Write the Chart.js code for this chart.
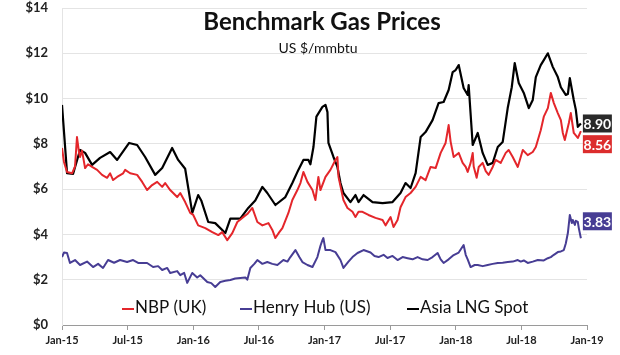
<!DOCTYPE html>
<html>
<head>
<meta charset="utf-8">
<script src="https://cdn.jsdelivr.net/npm/chart.js@4.4.0/dist/chart.umd.min.js"></script>
<style>
  html, body { margin: 0; padding: 0; background: #ffffff; }
  canvas { display: block; }
</style>
</head>
<body>
<canvas id="c" width="620" height="355"></canvas>
<script>
// ---- Data (x = months since Jan-2015) ----
const tickLabels = ['Jan-15','Jul-15','Jan-16','Jul-16','Jan-17','Jul-17','Jan-18','Jul-18','Jan-19'];
const seriesNames = ['NBP (UK)', 'Henry Hub (US)', 'Asia LNG Spot'];
const chartTitle = 'Benchmark Gas Prices';
const chartSubtitle = 'US $/mmbtu';
const yTickLabels = ['$0','$2','$4','$6','$8','$10','$12','$14'];

const asiaX = [0,0.46,1.01,1.65,2.11,2.75,3.48,4.40,5.04,6.14,6.87,7.60,8.52,9.16,10.07,10.62,11.26,11.91,12.45,12.73,13.37,14.01,14.93,15.39,16.30,17.03,17.67,18.32,18.77,19.51,20.42,21.06,21.61,22.07,22.53,22.71,22.99,23.26,23.81,24.09,24.27,24.36,24.82,25.18,25.46,25.73,26.37,26.83,27.11,27.57,28.39,29.31,30.22,30.95,31.41,31.87,32.33,32.79,33.24,33.88,34.43,34.89,35.35,35.72,35.99,36.27,36.72,37.09,37.18,37.55,38.01,38.46,38.92,39.38,39.84,40.29,40.75,41.12,41.39,41.76,42.22,42.68,43.04,43.32,43.77,44.05,44.42,44.87,45.33,45.61,46.06,46.25,46.43,46.79,46.98,47.16,47.44];
const asiaY = [9.72,6.71,6.67,7.73,7.60,7.07,7.38,7.64,7.29,8.04,7.95,7.42,6.63,6.93,7.82,7.29,6.90,4.95,5.74,5.50,4.55,4.50,4.06,4.70,4.70,5.17,5.50,6.10,5.83,5.30,5.65,6.27,6.85,7.29,7.29,7.10,7.86,9.20,9.63,9.72,9.40,8.04,7.42,6.98,6.27,5.83,5.43,5.74,5.43,5.74,5.43,5.38,5.43,5.83,6.27,6.05,6.71,8.30,8.52,9.05,9.80,9.85,10.38,11.17,11.26,11.48,10.47,10.16,10.60,7.95,8.48,7.60,7.07,7.16,7.86,8.08,9.58,10.50,11.57,10.69,10.25,9.58,9.94,10.95,11.48,11.70,12.00,11.40,10.95,10.50,10.16,10.20,10.90,9.94,9.50,8.75,8.90];

const nbpX = [0,0.18,0.46,0.92,1.19,1.37,1.56,1.65,1.83,2.11,2.38,2.75,3.21,3.66,4.12,4.40,4.67,5.04,5.59,5.77,6.23,6.87,7.33,7.78,8.24,8.70,9.16,9.43,9.89,10.53,10.81,11.26,11.72,12.00,12.45,13.10,13.74,14.29,14.65,15.11,15.57,16.03,16.48,16.94,17.40,17.86,18.32,18.87,19.23,19.51,19.87,20.15,20.70,21.06,21.52,21.80,22.07,22.44,22.90,23.17,23.44,23.63,24.09,24.54,25.00,25.18,25.28,25.73,26.10,26.56,26.83,27.11,27.47,28.02,28.66,29.31,29.58,30.04,30.31,30.68,30.95,31.41,31.87,32.33,32.79,33.24,33.70,34.16,34.62,35.07,35.35,35.53,35.81,36.27,36.63,36.91,37.09,37.36,37.55,37.64,37.91,38.10,38.46,38.74,39.01,39.38,39.65,40.11,40.57,40.84,41.21,41.67,42.13,42.58,43.04,43.32,43.77,44.05,44.42,44.69,44.97,45.33,45.61,45.79,45.97,46.34,46.52,46.79,47.16,47.44];
const nbpY = [7.82,7.20,6.76,6.70,7.00,8.30,7.60,7.42,7.70,6.93,7.10,6.98,6.85,6.63,6.50,6.70,6.40,6.54,6.70,6.85,6.70,6.63,6.32,5.96,6.18,6.32,6.10,6.27,5.96,5.65,5.83,5.43,4.95,4.86,4.40,4.28,4.10,3.97,4.10,3.75,4.06,4.55,4.73,4.90,5.17,4.55,4.40,4.50,4.20,3.84,4.10,4.28,4.95,5.52,5.96,6.27,6.76,6.32,5.96,5.52,6.54,5.96,6.54,6.85,7.29,7.42,6.54,5.52,5.17,5.00,4.77,5.00,5.00,4.86,4.73,4.64,4.40,4.77,4.33,4.64,5.20,5.65,5.83,6.10,6.54,6.40,6.98,6.93,7.60,8.04,8.83,8.10,7.42,7.60,7.16,6.98,6.76,7.16,7.60,7.00,6.50,6.98,7.16,6.80,6.63,6.98,7.29,7.16,7.60,7.73,7.42,6.98,7.73,7.50,7.64,7.86,8.60,9.20,9.58,10.25,9.80,9.36,9.05,8.48,8.17,8.92,9.36,8.48,8.26,8.56];

const hhX = [0,0.18,0.46,0.73,1.19,1.65,2.29,2.84,3.30,3.75,4.21,4.76,5.31,5.95,6.50,6.96,7.78,8.33,8.79,9.16,9.62,9.89,10.53,10.81,11.17,11.45,11.91,12.36,12.64,13.28,13.65,14.01,14.47,14.93,15.39,15.84,16.30,16.76,16.94,17.22,17.58,17.86,18.32,18.77,19.23,19.69,20.24,20.61,20.88,21.34,21.70,21.98,22.44,22.90,23.35,23.63,23.81,23.90,24.09,24.54,25.00,25.46,25.73,26.19,26.56,27.02,27.57,28.21,28.57,28.94,29.40,29.76,30.22,30.68,31.14,31.60,32.05,32.51,32.97,33.43,33.88,34.34,34.62,34.89,35.35,35.81,36.27,36.54,36.72,36.91,37.09,37.36,37.73,38.01,38.46,38.92,39.38,39.84,40.29,40.75,41.21,41.67,41.94,42.22,42.58,43.04,43.50,44.05,44.42,44.69,44.97,45.33,45.61,45.88,46.06,46.25,46.43,46.61,46.70,46.89,46.98,47.16,47.25,47.44];
const hhY = [3.00,3.20,3.18,2.74,2.87,2.65,2.80,2.56,2.70,2.52,2.87,2.75,2.87,2.78,2.87,2.74,2.74,2.56,2.60,2.43,2.52,2.30,2.38,2.20,2.30,1.86,2.30,2.10,2.20,1.90,1.85,1.68,1.90,1.95,1.99,2.05,2.08,2.10,2.00,2.52,2.70,2.87,2.70,2.78,2.70,2.65,2.87,2.80,3.00,3.31,3.00,2.78,2.65,2.56,3.00,3.50,3.75,3.84,3.31,3.31,3.22,2.87,2.52,2.80,3.00,3.18,3.31,3.20,3.05,3.00,3.10,2.96,3.05,2.87,3.00,2.95,2.90,3.00,2.90,2.87,3.00,3.18,2.90,2.74,2.90,3.09,3.20,3.40,3.53,3.10,2.90,2.56,2.65,2.65,2.60,2.65,2.70,2.74,2.75,2.78,2.80,2.87,2.80,2.85,2.74,2.80,2.87,2.85,2.95,3.00,3.10,3.22,3.25,3.31,3.60,4.06,4.86,4.50,4.64,4.42,4.60,4.55,4.28,3.83];

// ---- Styles ----
const colNBP = '#e4262b';
const colHH = '#473d94';
const colAsia = '#000000';
const boxColors = ['#dc2d2d', '#473d94', '#2a2a2a'];
const boxOffsets = [13, -17, 0];
const FONT = 'Lato, "Open Sans", "Liberation Sans", sans-serif';

function pts(xs, ys) { return xs.map((x, i) => ({ x: x, y: ys[i] })); }

const overlayPlugin = {
  id: 'overlay',
  afterDatasetsDraw(chart) {
    const ctx = chart.ctx;
    ctx.save();
    // Title & subtitle
    ctx.fillStyle = '#111111';
    ctx.textAlign = 'center';
    ctx.textBaseline = 'middle';
    ctx.font = 'bold 24px ' + FONT;
    ctx.fillText(chartTitle, 322, 22);
    ctx.font = '14px ' + FONT;
    ctx.fillText(chartSubtitle, 318, 48);

    // Legend (inside chart area, near bottom)
    const legendX = [122, 240, 407];
    const legendY = 308;
    ctx.font = '17px ' + FONT;
    ctx.textAlign = 'left';
    chart.data.datasets.forEach((ds, i) => {
      const x0 = legendX[i];
      ctx.strokeStyle = ds.borderColor;
      ctx.lineWidth = 2;
      ctx.beginPath();
      ctx.moveTo(x0, legendY + 1);
      ctx.lineTo(x0 + 12, legendY + 1);
      ctx.stroke();
      ctx.fillStyle = '#111111';
      ctx.fillText(ds.label, x0 + 13, legendY);
    });

    // End value boxes
    ctx.font = 'bold 14px ' + FONT;
    chart.data.datasets.forEach((ds, i) => {
      const meta = chart.getDatasetMeta(i);
      const last = meta.data[meta.data.length - 1];
      const val = ds.data[ds.data.length - 1].y;
      const text = val.toFixed(2);
      const w = 29, h = 18;
      const bx = last.x + 2;
      const by = last.y + boxOffsets[i] - h / 2;
      ctx.fillStyle = boxColors[i];
      ctx.fillRect(bx, by, w, h);
      ctx.fillStyle = '#ffffff';
      ctx.textAlign = 'center';
      ctx.fillText(text, bx + w / 2, by + h / 2 + 1);
    });
    ctx.restore();
  }
};

new Chart(document.getElementById('c'), {
  type: 'line',
  data: {
    datasets: [
      { label: seriesNames[0], data: pts(nbpX, nbpY), borderColor: colNBP, borderWidth: 2 },
      { label: seriesNames[1], data: pts(hhX, hhY), borderColor: colHH, borderWidth: 2 },
      { label: seriesNames[2], data: pts(asiaX, asiaY), borderColor: colAsia, borderWidth: 2.2 }
    ]
  },
  options: {
    responsive: false,
    animation: false,
    layout: { padding: { left: 0, right: 33, top: 8, bottom: 0 } },
    elements: { point: { radius: 0 }, line: { tension: 0, borderJoinStyle: 'round' } },
    plugins: { legend: { display: false }, tooltip: { enabled: false }, title: { display: false } },
    scales: {
      x: {
        type: 'linear',
        min: 0, max: 48,
        afterFit(scale) { scale.height = 30; scale.paddingLeft = 0; scale.paddingRight = 0; },
        border: { display: true, color: '#9a9a9a', width: 1 },
        grid: { display: true, drawOnChartArea: false, drawTicks: true, tickLength: 5, color: '#9a9a9a' },
        ticks: {
          stepSize: 6,
          autoSkip: false,
          maxRotation: 0,
          padding: 4,
          color: '#222222',
          font: { family: FONT, size: 11, weight: 'bold' },
          callback: (v) => tickLabels[Math.round(v / 6)]
        }
      },
      y: {
        type: 'linear',
        min: 0, max: 14,
        afterFit(scale) { scale.width = 62; scale.paddingTop = 0; scale.paddingBottom = 0; },
        border: { display: true, color: '#e4e4e4', width: 1 },
        grid: { color: '#e4e4e4', drawTicks: false, lineWidth: 1 },
        ticks: {
          stepSize: 2,
          padding: 14,
          color: '#222222',
          font: { family: FONT, size: 13, weight: 'bold' },
          callback: (v) => yTickLabels[Math.round(v / 2)]
        }
      }
    }
  },
  plugins: [overlayPlugin]
});
</script>
</body>
</html>
